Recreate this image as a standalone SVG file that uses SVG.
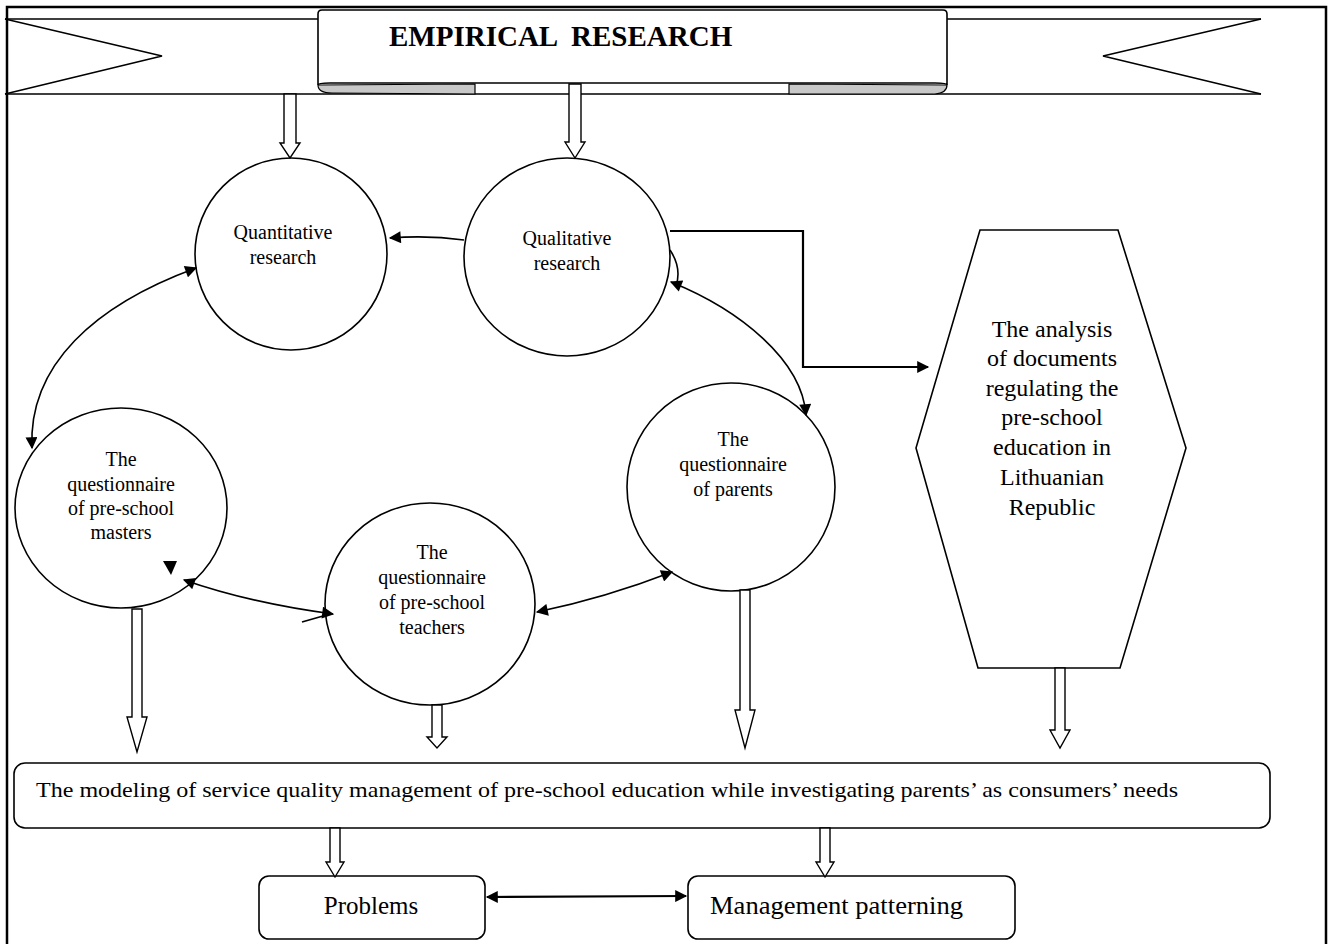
<svg xmlns="http://www.w3.org/2000/svg" width="1333" height="944" viewBox="0 0 1333 944">
<defs>
<style>
.ln{fill:none;stroke:#000;stroke-width:1.6}
.sh{fill:#fff;stroke:#000;stroke-width:1.6}
.ba{fill:#fff;stroke:#000;stroke-width:1.4}
.t{font-family:"Liberation Serif","Times New Roman",serif;fill:#000}
.c20{font-size:20px;text-anchor:middle}
.c24{font-size:24px;text-anchor:middle}
</style>
<marker id="ah" viewBox="0 0 10 10" refX="9" refY="5" markerWidth="14" markerHeight="12" markerUnits="userSpaceOnUse" orient="auto-start-reverse">
<path d="M0,0 L10,5 L0,10 z" fill="#000"/>
</marker>
</defs>
<rect x="0" y="0" width="1333" height="944" fill="#fff"/>
<!-- outer frame -->
<path d="M7,950 L7,7 L1326,7 L1326,950" fill="none" stroke="#000" stroke-width="2.5"/>

<!-- banner -->
<g id="banner">
<path d="M5,19 L318,19 M947,19 L1261,19 M5,94 L1261,94" class="ln"/>
<path d="M5,19 L162,56 L5,94" class="ln"/>
<path d="M1261,19 L1103,56 L1261,94" class="ln"/>
<path d="M318,85 Q318,93 332,93 L475,94 L475,84 Z" fill="#c8c8c8" stroke="#000" stroke-width="1.2"/>
<path d="M789,84 L789,94 L935,94 Q947,93 947,85 Z" fill="#c8c8c8" stroke="#000" stroke-width="1.2"/>
<path d="M318,85 L318,14 Q318,10 322,10 L943,10 Q947,10 947,14 L947,85 Q947,83 935,83 L330,83 Q318,83 318,85 Z" class="sh"/>
<text class="t" x="389" y="46" font-size="29" font-weight="bold" xml:space="preserve">EMPIRICAL  RESEARCH</text>
</g>

<!-- nodes -->
<g id="quantitative">
<ellipse cx="291" cy="254" rx="96" ry="96" class="sh"/>
<text class="t c20" x="283" y="239">Quantitative</text>
<text class="t c20" x="283" y="264">research</text>
</g>
<g id="qualitative">
<ellipse cx="567" cy="257" rx="103" ry="99" class="sh"/>
<text class="t c20" x="567" y="245">Qualitative</text>
<text class="t c20" x="567" y="270">research</text>
</g>
<g id="masters">
<ellipse cx="121" cy="508" rx="106" ry="100" class="sh"/>
<text class="t c20" x="121" y="466">The</text>
<text class="t c20" x="121" y="491">questionnaire</text>
<text class="t c20" x="121" y="515">of pre-school</text>
<text class="t c20" x="121" y="539">masters</text>
</g>
<g id="teachers">
<ellipse cx="430" cy="604" rx="105" ry="101" class="sh"/>
<text class="t c20" x="432" y="559">The</text>
<text class="t c20" x="432" y="584">questionnaire</text>
<text class="t c20" x="432" y="609">of pre-school</text>
<text class="t c20" x="432" y="634">teachers</text>
</g>
<g id="parents">
<ellipse cx="731" cy="487" rx="104" ry="104" class="sh"/>
<text class="t c20" x="733" y="446">The</text>
<text class="t c20" x="733" y="471">questionnaire</text>
<text class="t c20" x="733" y="496">of parents</text>
</g>
<g id="analysis">
<polygon points="980,230 1118,230 1186,448 1120,668 978,668 916,448" class="sh"/>
<text class="t c24" x="1052" y="337">The analysis</text>
<text class="t c24" x="1052" y="366">of documents</text>
<text class="t c24" x="1052" y="396">regulating the</text>
<text class="t c24" x="1052" y="425">pre-school</text>
<text class="t c24" x="1052" y="455">education in</text>
<text class="t c24" x="1052" y="485">Lithuanian</text>
<text class="t c24" x="1052" y="515">Republic</text>
</g>
<g id="modeling">
<rect x="14" y="763" width="1256" height="65" rx="11" class="sh"/>
<text class="t" x="36" y="797" font-size="22" textLength="1142" lengthAdjust="spacingAndGlyphs">The modeling of service quality management of pre-school education while investigating parents’ as consumers’ needs</text>
</g>
<g id="problems">
<rect x="259" y="876" width="226" height="63" rx="10" class="sh"/>
<text class="t" x="371" y="914" font-size="25" text-anchor="middle">Problems</text>
</g>
<g id="management">
<rect x="688" y="876" width="327" height="63" rx="10" class="sh"/>
<text class="t" x="710" y="914" font-size="25" textLength="253" lengthAdjust="spacingAndGlyphs">Management patterning</text>
</g>

<!-- connectors -->
<g id="connectors">
<path class="ba" d="M284,94 L284,143 L280,143 L290,158 L300,143 L296,143 L296,94 Z"/>
<path class="ba" d="M569,84 L569,142 L565,142 L575,158 L585,142 L581,142 L581,84 Z"/>
<path class="ba" d="M132,609 L132,717 L127,717 L137,752 L147,717 L142,717 L142,609 Z"/>
<path class="ba" d="M432,705 L432,737 L427,737 L437,748 L447,737 L442,737 L442,705 Z"/>
<path class="ba" d="M740,590 L740,710 L735,710 L745,748 L755,710 L750,710 L750,590 Z"/>
<path class="ba" d="M1055,668 L1055,730 L1050,730 L1060,748 L1070,730 L1065,730 L1065,668 Z"/>
<path class="ba" d="M330,828 L330,862 L326,862 L335,877 L344,862 L340,862 L340,828 Z"/>
<path class="ba" d="M820,828 L820,862 L816,862 L825,877 L834,862 L830,862 L830,828 Z"/>

<path class="ln" d="M464,240 Q428,235 390,238" marker-end="url(#ah)"/>
<path d="M670,231 L803,231 L803,367 L928,367" fill="none" stroke="#000" stroke-width="2.2" marker-end="url(#ah)"/>
<path class="ln" d="M196,268 C95,305 28,365 32,448" marker-start="url(#ah)" marker-end="url(#ah)"/>
<path class="ln" d="M670,250 Q682,268 676,286"/>
<path class="ln" d="M671,282 C740,310 802,360 806,415" marker-start="url(#ah)" marker-end="url(#ah)"/>
<path class="ln" d="M184,580 Q250,603 333,614" marker-start="url(#ah)" marker-end="url(#ah)"/>
<path d="M302,622 L330,614" class="ln"/>
<polygon points="163,561 177,561 171,575" fill="#000"/>
<path class="ln" d="M537,612 Q605,598 672,572" marker-start="url(#ah)" marker-end="url(#ah)"/>
<path d="M487,897 L686,896" fill="none" stroke="#000" stroke-width="2.2" marker-start="url(#ah)" marker-end="url(#ah)"/>
</g>
</svg>
